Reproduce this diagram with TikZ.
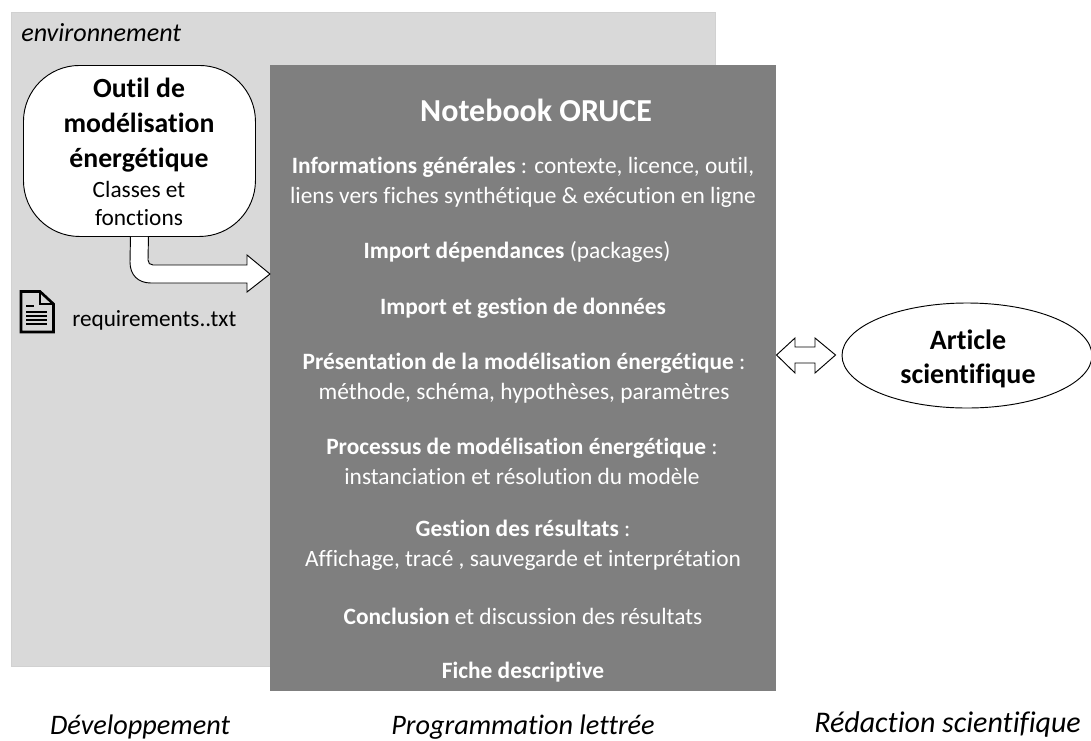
\documentclass[tikz,border=0pt]{standalone}
\usepackage{fontspec}
\setmainfont[Ligatures=NoCommon]{Carlito}
\usetikzlibrary{calc,shapes.geometric}
\definecolor{envgray}{HTML}{D9D9D9}
\definecolor{nbgray}{HTML}{7F7F7F}
\tikzset{
  x=0.75pt,y=-0.75pt,
  txt/.style={inner sep=0pt,align=center,font=\fontsize{17.55}{22.5}\selectfont},
  nbtxt/.style={txt,text=white},
  capt/.style={inner sep=0pt,font=\fontsize{21.2}{24}\selectfont\itshape},
  blockarrow/.style={draw=black,fill=white,line width=0.7pt,line join=miter},
}
\begin{document}
\begin{tikzpicture}
\useasboundingbox (0,0) rectangle (1091,740);
\node[fill=envgray,draw=black!18,line width=0.3pt,inner sep=0pt,minimum width=528pt,minimum height=490.5pt,anchor=north west] (env) at (11,12) {};
\node[inner sep=0pt,anchor=west,font=\fontsize{19.6}{22}\selectfont\itshape] (envlabel) at (21,33) {environnement};
\node[fill=nbgray,inner sep=0pt,minimum width=379.5pt,minimum height=469.5pt,anchor=north west] (nb) at (270,65) {};
\node[draw=black,fill=white,line width=0.7pt,rounded corners=42pt,inner sep=0pt,minimum width=174pt,minimum height=128.25pt,anchor=north west] (tool) at (23,65) {};
\node[txt,font=\fontsize{20.8}{26.3}\selectfont\bfseries] (tooltitle) at (139,125.5) {Outil de\\modélisation\\énergétique};
\node[txt,font=\fontsize{17.5}{21}\selectfont] (toolsub) at (139,203) {Classes et\\fonctions};
% bent arrow from tool to notebook
\coordinate (bendy) at (0,274);
\draw[blockarrow] ($(tool.south)+(-9,0)$) -- (130,262) .. controls (130,275) and (138,283) .. (151,283) -- (247,283) -- (247,292) -- (nb.west |- bendy) -- (247,255) -- (247,265) -- (153,265) .. controls (150,265) and (148,263) .. (148,260) -- ($(tool.south)+(9,0)$);
% double arrow
\node[draw=black,fill=white,line width=0.7pt,ellipse,inner sep=0pt,minimum width=187.5pt,minimum height=78.75pt] (art) at (967,355.5) {};
\coordinate (dbly) at (0,355);
\draw[blockarrow] (nb.east |- dbly) -- (795,338) -- (795,347) -- (815,347) -- (815,338) -- ($(art.west |- dbly)+(-6,0)$) -- (815,373) -- (815,363) -- (795,363) -- (795,373) -- cycle;
\node[txt,font=\fontsize{21}{26}\selectfont\bfseries] (arttext) at (968,359) {Article\\scientifique};
% document icon
\draw[line width=2pt,line join=miter] (21,291.5) -- (40,291.5) -- (53.5,304) -- (53.5,332) -- (21,332) -- cycle;
\draw[line width=2pt] (40,291.5) -- (40,304) -- (53.5,304);
\draw[line width=1.5pt] (26,306) -- (34,306) (26,311.5) -- (47,311.5) (26,315.8) -- (47,315.8) (26,320) -- (47,320) (26,324.3) -- (47,324.3);
\node[txt,anchor=west,font=\fontsize{17.4}{20}\selectfont] (req) at (72,320) {requirements..txt};
% notebook text
\node[nbtxt,font=\fontsize{24}{28}\selectfont\bfseries] (n0) at (536,110) {Notebook ORUCE};
\node[nbtxt] (n1) at (523,182) {\textbf{Informations générales} : contexte, licence, outil,\\liens vers fiches synthétique \& exécution en ligne};
\node[nbtxt] (n2) at (517,252) {\textbf{Import dépendances} (packages)};
\node[nbtxt] (n3) at (523,308) {\textbf{Import et gestion de données}};
\node[nbtxt] (n4) at (524,378) {\textbf{Présentation de la modélisation énergétique} :\\méthode, schéma, hypothèses, paramètres};
\node[nbtxt] (n5) at (522,461) {\textbf{Processus de modélisation énergétique} :\\instanciation et résolution du modèle};
\node[nbtxt] (n6) at (523,545) {\textbf{Gestion des résultats} :\\Affichage, tracé , sauvegarde et interprétation};
\node[nbtxt] (n7) at (523,616) {\textbf{Conclusion} et discussion des résultats};
\node[nbtxt] (n8) at (523,672) {\textbf{Fiche descriptive}};
% captions
\node[capt] (c1) at (140,727) {Développement};
\node[capt] (c2) at (523,727) {Programmation lettrée};
\node[capt,anchor=west,font=\fontsize{22.5}{26}\selectfont\itshape] (c3) at (814,724) {Rédaction scientifique};
\end{tikzpicture}
\end{document}
